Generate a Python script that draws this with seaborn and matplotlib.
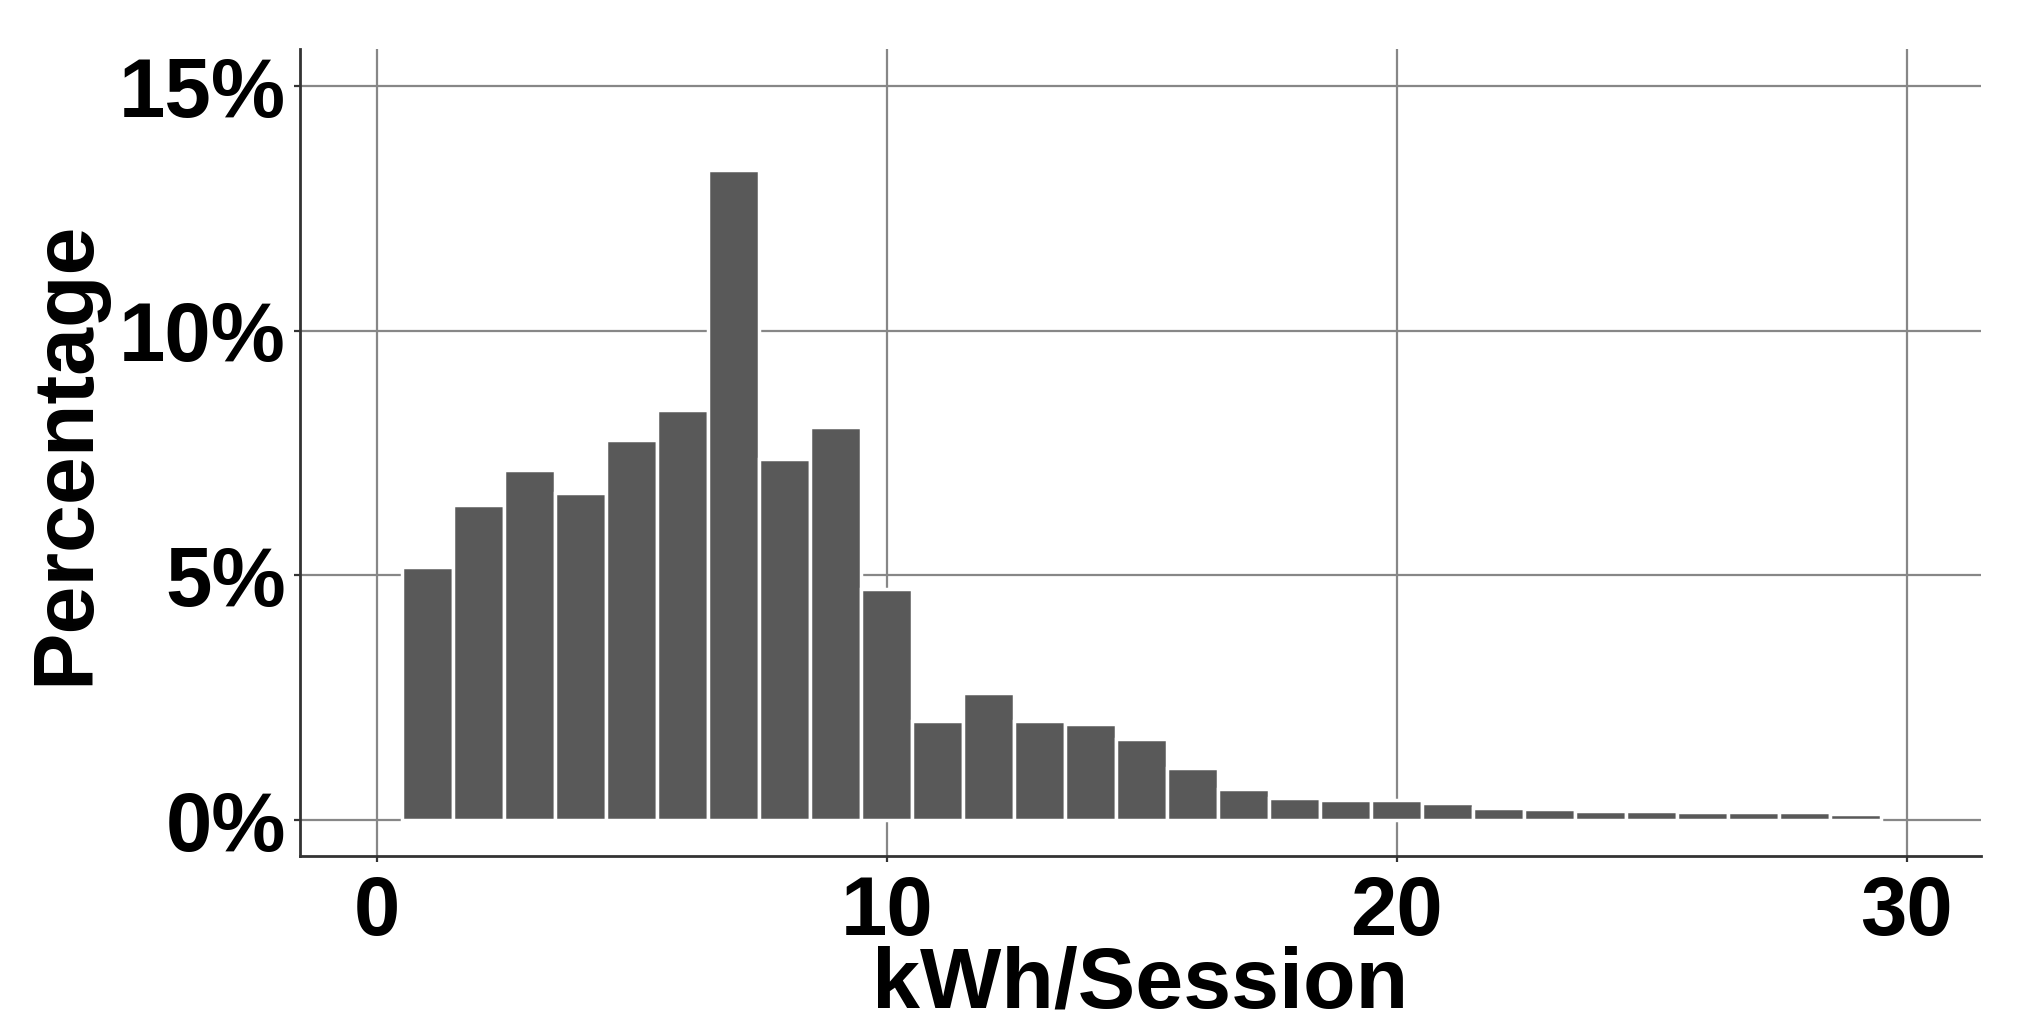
import matplotlib
matplotlib.use("Agg")
import pandas as pd
import seaborn as sns
import matplotlib.pyplot as plt
from matplotlib.ticker import PercentFormatter

# kWh per session, one bar per 1 kWh bin (bin centres)
kwh_bins = [1, 2, 3, 4, 5, 6, 7, 8, 9, 10,
            11, 12, 13, 14, 15, 16, 17, 18, 19, 20,
            21, 22, 23, 24, 25, 26, 27, 28, 29]
# share of sessions in each bin (%)
pct_sessions = [5.18, 6.44, 7.15, 6.68, 7.76, 8.38, 13.29, 7.37, 8.04, 4.73,
                2.02, 2.60, 2.02, 1.96, 1.65, 1.07, 0.63, 0.46, 0.41, 0.41,
                0.34, 0.25, 0.22, 0.19, 0.19, 0.16, 0.16, 0.16, 0.12]

x_ticks = [0, 10, 20, 30]
y_ticks = [0, 5, 10, 15]

df = pd.DataFrame({"kwh": kwh_bins, "pct": pct_sessions})

sns.set_style("white")
plt.rcParams['font.family'] = ['Liberation Sans', 'DejaVu Sans']
plt.rcParams['font.weight'] = 'bold'
plt.rcParams['text.color'] = 'black'
plt.rcParams['axes.labelcolor'] = 'black'

fig = plt.figure(figsize=(20.17, 10.33), dpi=100)
ax = fig.add_axes([0.1487, 0.1713, 0.8335, 0.7813])

sns.histplot(data=df, x="kwh", weights="pct", binwidth=1,
             binrange=(0.5, 29.5), ax=ax,
             color="#595959", alpha=1, edgecolor="white", linewidth=2.5,
             zorder=3)

ax.set_xlim(-1.51, 31.46)
ax.set_ylim(-0.736, 15.76)
ax.set_xticks(x_ticks)
ax.set_yticks(y_ticks)
ax.yaxis.set_major_formatter(PercentFormatter(xmax=100, decimals=0))

# grid lines
ax.grid(True, color="#878787", linewidth=1.6, zorder=0)
ax.set_axisbelow(True)

# only left + bottom axis lines, like the reference
for side in ["top", "right"]:
    ax.spines[side].set_visible(False)
for side in ["left", "bottom"]:
    ax.spines[side].set_color("#333333")
    ax.spines[side].set_linewidth(2)

ax.tick_params(axis="both", which="major", length=4, width=1.6,
               color="#333333", labelcolor="black", labelsize=60,
               bottom=True, left=True)
ax.tick_params(axis="x", pad=9)
ax.tick_params(axis="y", pad=6)
for lbl in ax.get_xticklabels() + ax.get_yticklabels():
    lbl.set_fontweight("bold")

ax.set_xlabel("kWh/Session", fontsize=62, fontweight="bold", labelpad=-5)
ax.set_ylabel("Percentage", fontsize=62, fontweight="bold", labelpad=9)

fig.savefig("out.png", dpi=100, facecolor="white")
plt.close(fig)
